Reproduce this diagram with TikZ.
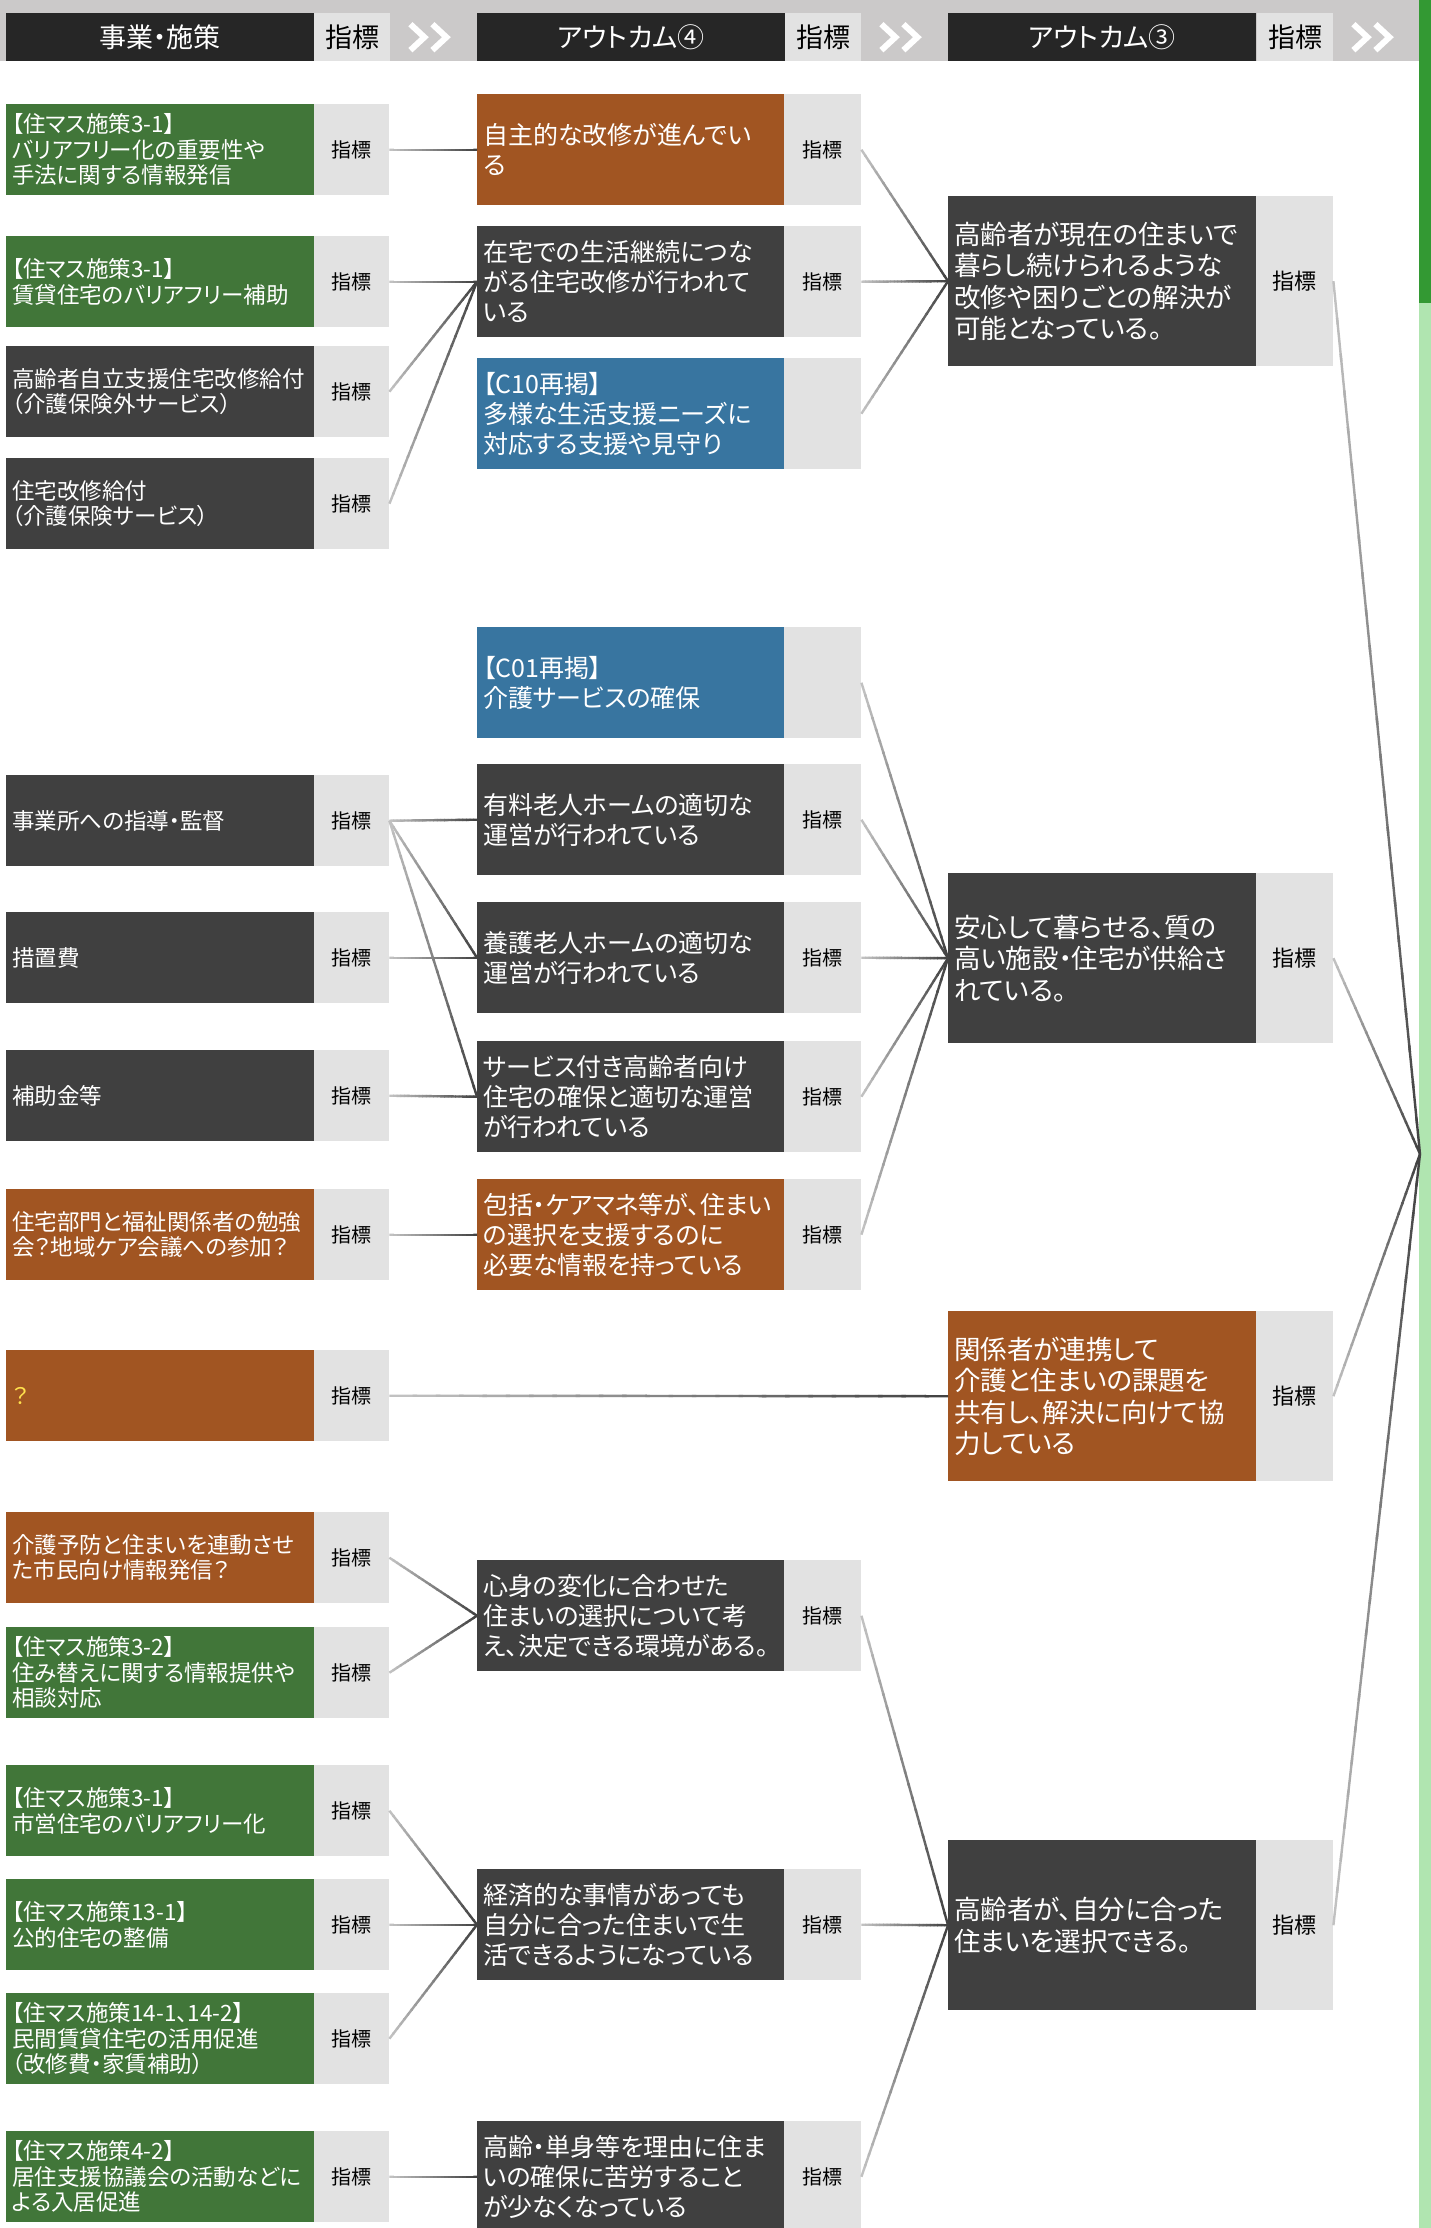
\documentclass[tikz,border=0pt]{standalone}
\usepackage{fontspec}
\setmainfont{Noto Sans CJK JP}[RawFeature=+palt]
\usetikzlibrary{calc}
\definecolor{cgreen}{HTML}{417639}
\definecolor{cbrown}{HTML}{A15522}
\definecolor{cblue}{HTML}{3875A0}
\definecolor{cdark}{HTML}{404040}
\definecolor{cind}{HTML}{E2E2E2}
\definecolor{chdr}{HTML}{262626}
\definecolor{cband}{HTML}{CBC9C9}
\definecolor{bardark}{HTML}{339933}
\definecolor{barlight}{HTML}{B0E5B0}
\definecolor{lineL}{HTML}{C4C4C4}
\definecolor{lineD}{HTML}{404040}
\definecolor{qyellow}{HTML}{FFE14D}
\newcommand{\fsA}{\fontsize{22.5}{25.5}\selectfont}
\newcommand{\fsB}{\fontsize{25}{30}\selectfont}
\newcommand{\fsC}{\fontsize{26.5}{31.5}\selectfont}
\newcommand{\fsI}{\fontsize{20}{24}\selectfont}
\newcommand{\fsIC}{\fontsize{22}{26}\selectfont}
\newcommand{\fsH}{\fontsize{27}{30}\selectfont}
\newcommand{\gl}[2]{%
  \foreach \k in {1,...,24}{%
    \pgfmathsetmacro{\ta}{(\k-1)/24}%
    \pgfmathsetmacro{\tb}{min(1,\k/24+0.008)}%
    \pgfmathtruncatemacro{\tc}{round(100*(\k-0.5)/24)}%
    \draw[conn, draw=lineD!\tc!lineL] ($(#1)!\ta!(#2)$) -- ($(#1)!\tb!(#2)$);
  }%
}
\tikzset{
  conn/.style={line width=2.4pt},
  abox/.style={anchor=north west, minimum width=308pt, minimum height=91pt, text width=296pt, inner xsep=6pt, inner ysep=0pt, align=left, text=white, font=\fsA},
  aind/.style={anchor=north west, minimum width=75pt, minimum height=91pt, inner sep=0pt, fill=cind, text=black, font=\fsI},
  bbox/.style={anchor=north west, minimum width=307pt, minimum height=111pt, text width=295pt, inner xsep=6pt, inner ysep=0pt, align=left, text=white, font=\fsB},
  bind/.style={anchor=north west, minimum width=77pt, minimum height=111pt, inner sep=0pt, fill=cind, text=black, font=\fsI},
  cbox/.style={anchor=north west, minimum width=308pt, minimum height=170pt, text width=296pt, inner xsep=6pt, inner ysep=0pt, align=left, text=white, font=\fsC},
  cind/.style={anchor=north west, minimum width=77pt, minimum height=170pt, inner sep=0pt, fill=cind, text=black, font=\fsIC},
  hbox/.style={anchor=north west, minimum width=308pt, minimum height=48pt, inner sep=0pt, fill=chdr, text=white, font=\fsH},
  hind/.style={anchor=north west, minimum width=76pt, minimum height=48pt, inner sep=0pt, fill=cind, text=black, font=\fsH},
  chev/.style={draw=white, line width=6pt, miter limit=10}
}
\begin{document}
\begin{tikzpicture}[x=1pt,y=-1pt]
\useasboundingbox (0,0) rectangle (1431,2228);
\clip (0,0) rectangle (1431,2228);
\fill[white] (0,0) rectangle (1431,2228);
% header
\fill[cband] (0,0) rectangle (1419,61);
\fill[bardark] (1419,0) rectangle (1431,303);
\fill[barlight] (1419,303) rectangle (1431,2228);
\node[hbox] (h1) at (6,13) {事業・施策};
\node[hind] (h1i) at (314,13) {指標};
\node[hbox] (h2) at (477,13) {アウトカム④};
\node[hind] (h2i) at (785,13) {指標};
\node[hbox] (h3) at (948,13) {アウトカム③};
\node[hind] (h3i) at (1257,13) {指標};
\foreach \h in {h1i,h2i,h3i}{
  \draw[chev] ($(\h.east)+(20,-13)$) -- ($(\h.east)+(34,0)$) -- ($(\h.east)+(20,13)$);
  \draw[chev] ($(\h.east)+(42,-13)$) -- ($(\h.east)+(56,0)$) -- ($(\h.east)+(42,13)$);
}
% column 1
\node[abox, fill=cgreen] (a1) at (6,104) {【住マス施策3-1】\\バリアフリー化の重要性や\\手法に関する情報発信};
\node[aind] (a1i) at (314,104) {指標};
\node[abox, fill=cgreen] (a2) at (6,236) {【住マス施策3-1】\\賃貸住宅のバリアフリー補助};
\node[aind] (a2i) at (314,236) {指標};
\node[abox, fill=cdark] (a3) at (6,346) {高齢者自立支援住宅改修給付\\（介護保険外サービス）};
\node[aind] (a3i) at (314,346) {指標};
\node[abox, fill=cdark] (a4) at (6,458) {住宅改修給付\\（介護保険サービス）};
\node[aind] (a4i) at (314,458) {指標};
\node[abox, fill=cdark] (a5) at (6,775) {事業所への指導・監督};
\node[aind] (a5i) at (314,775) {指標};
\node[abox, fill=cdark] (a6) at (6,912) {措置費};
\node[aind] (a6i) at (314,912) {指標};
\node[abox, fill=cdark] (a7) at (6,1050) {補助金等};
\node[aind] (a7i) at (314,1050) {指標};
\node[abox, fill=cbrown] (a8) at (6,1189) {住宅部門と福祉関係者の勉強\\会？地域ケア会議への参加？};
\node[aind] (a8i) at (314,1189) {指標};
\node[abox, fill=cbrown] (a9) at (6,1350) {\textcolor{qyellow}{？}};
\node[aind] (a9i) at (314,1350) {指標};
\node[abox, fill=cbrown] (a10) at (6,1512) {介護予防と住まいを連動させ\\た市民向け情報発信？};
\node[aind] (a10i) at (314,1512) {指標};
\node[abox, fill=cgreen] (a11) at (6,1627) {【住マス施策3-2】\\住み替えに関する情報提供や\\相談対応};
\node[aind] (a11i) at (314,1627) {指標};
\node[abox, fill=cgreen] (a12) at (6,1765) {【住マス施策3-1】\\市営住宅のバリアフリー化};
\node[aind] (a12i) at (314,1765) {指標};
\node[abox, fill=cgreen] (a13) at (6,1879) {【住マス施策13-1】\\公的住宅の整備};
\node[aind] (a13i) at (314,1879) {指標};
\node[abox, fill=cgreen] (a14) at (6,1993) {【住マス施策14-1、14-2】\\民間賃貸住宅の活用促進\\（改修費・家賃補助）};
\node[aind] (a14i) at (314,1993) {指標};
\node[abox, fill=cgreen] (a15) at (6,2131) {【住マス施策4-2】\\居住支援協議会の活動などに\\よる入居促進};
\node[aind] (a15i) at (314,2131) {指標};
% column 2
\node[bbox, fill=cbrown] (b1) at (477,94) {自主的な改修が進んでい\\る};
\node[bind] (b1i) at (784,94) {指標};
\node[bbox, fill=cdark] (b2) at (477,226) {在宅での生活継続につな\\がる住宅改修が行われて\\いる};
\node[bind] (b2i) at (784,226) {指標};
\node[bbox, fill=cblue] (b3) at (477,358) {【C10再掲】\\多様な生活支援ニーズに\\対応する支援や見守り};
\node[bind] (b3i) at (784,358) {};
\node[bbox, fill=cblue] (b4) at (477,627) {【C01再掲】\\介護サービスの確保};
\node[bind] (b4i) at (784,627) {};
\node[bbox, fill=cdark] (b5) at (477,764) {有料老人ホームの適切な\\運営が行われている};
\node[bind] (b5i) at (784,764) {指標};
\node[bbox, fill=cdark] (b6) at (477,902) {養護老人ホームの適切な\\運営が行われている};
\node[bind] (b6i) at (784,902) {指標};
\node[bbox, fill=cdark] (b7) at (477,1041) {サービス付き高齢者向け\\住宅の確保と適切な運営\\が行われている};
\node[bind] (b7i) at (784,1041) {指標};
\node[bbox, fill=cbrown] (b8) at (477,1179) {包括・ケアマネ等が、住まい\\の選択を支援するのに\\必要な情報を持っている};
\node[bind] (b8i) at (784,1179) {指標};
\node[bbox, fill=cdark] (b9) at (477,1560) {心身の変化に合わせた\\住まいの選択について考\\え、決定できる環境がある。};
\node[bind] (b9i) at (784,1560) {指標};
\node[bbox, fill=cdark] (b10) at (477,1869) {経済的な事情があっても\\自分に合った住まいで生\\活できるようになっている};
\node[bind] (b10i) at (784,1869) {指標};
\node[bbox, fill=cdark] (b11) at (477,2121) {高齢・単身等を理由に住ま\\いの確保に苦労すること\\が少なくなっている};
\node[bind] (b11i) at (784,2121) {指標};
% column 3
\node[cbox, fill=cdark] (c1) at (948,196) {高齢者が現在の住まいで\\暮らし続けられるような\\改修や困りごとの解決が\\可能となっている。};
\node[cind] (c1i) at (1256,196) {指標};
\node[cbox, fill=cdark] (c2) at (948,873) {安心して暮らせる、質の\\高い施設・住宅が供給さ\\れている。};
\node[cind] (c2i) at (1256,873) {指標};
\node[cbox, fill=cbrown] (c3) at (948,1311) {関係者が連携して\\介護と住まいの課題を\\共有し、解決に向けて協\\力している};
\node[cind] (c3i) at (1256,1311) {指標};
\node[cbox, fill=cdark] (c4) at (948,1840) {高齢者が、自分に合った\\住まいを選択できる。};
\node[cind] (c4i) at (1256,1840) {指標};
\coordinate (conv) at (1420,1154);
% connectors
\gl{a1i.east}{b1.west}
\gl{a2i.east}{b2.west}
\gl{a3i.east}{b2.west}
\gl{a4i.east}{b2.west}
\gl{a5i.east}{b5.west}
\gl{a5i.east}{b6.west}
\gl{a5i.east}{b7.west}
\gl{a6i.east}{b6.west}
\gl{a7i.east}{b7.west}
\gl{a8i.east}{b8.west}
\gl{a9i.east}{c3.west}
\gl{a10i.east}{b9.west}
\gl{a11i.east}{b9.west}
\gl{a12i.east}{b10.west}
\gl{a13i.east}{b10.west}
\gl{a14i.east}{b10.west}
\gl{a15i.east}{b11.west}
\gl{b1i.east}{c1.west}
\gl{b2i.east}{c1.west}
\gl{b3i.east}{c1.west}
\gl{b4i.east}{c2.west}
\gl{b5i.east}{c2.west}
\gl{b6i.east}{c2.west}
\gl{b7i.east}{c2.west}
\gl{b8i.east}{c2.west}
\gl{b9i.east}{c4.west}
\gl{b10i.east}{c4.west}
\gl{b11i.east}{c4.west}
\gl{c1i.east}{conv}
\gl{c2i.east}{conv}
\gl{c3i.east}{conv}
\gl{c4i.east}{conv}
\end{tikzpicture}
\end{document}
